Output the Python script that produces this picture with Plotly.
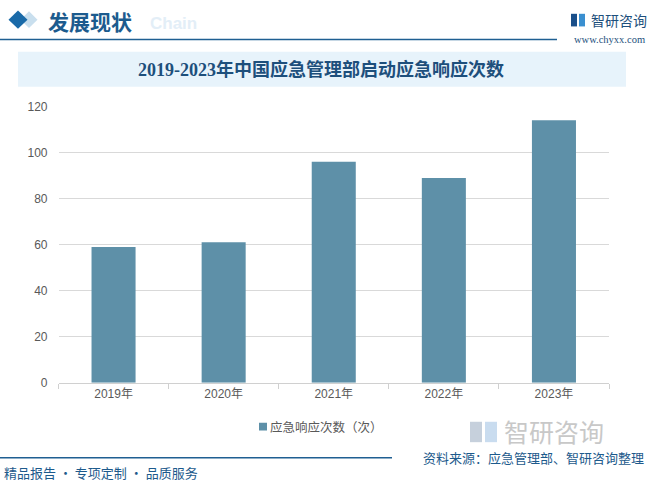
import plotly.graph_objects as go

years = ["2019年", "2020年", "2021年", "2022年", "2023年"]
responses = [59, 61, 96, 89, 114]
series_name = "应急响应次数（次）"
y_ticks = [0, 20, 40, 60, 80, 100, 120]

W, H = 649, 489
def px(x):
    return x / W
def py(y):
    return 1 - y / H

CJK = "Noto Sans CJK SC"
BAR_COLOR = "#5e90a8"
fig = go.Figure()
fig.add_trace(go.Bar(
    x=years, y=responses, name=series_name,
    marker=dict(color=BAR_COLOR, line=dict(width=0)),
    showlegend=False,
))

shapes = []
# title box
shapes.append(dict(type="rect", xref="paper", yref="paper", x0=px(18), x1=px(626), y0=py(82), y1=py(46),
                   fillcolor="#e7f3fb", line=dict(width=0), layer="below"))
# header line
shapes.append(dict(type="line", xref="paper", yref="paper", x0=px(0), x1=px(557), y0=py(33.5), y1=py(33.5),
                   line=dict(color="#1f5f92", width=1.5)))
# footer line
shapes.append(dict(type="line", xref="paper", yref="paper", x0=px(0), x1=px(392), y0=py(464), y1=py(464),
                   line=dict(color="#1f5f92", width=1.5)))
# diamonds
def diamond(cx, cy, r, color):
    path = f"M {px(cx-r)} {py(cy)} L {px(cx)} {py(cy-r)} L {px(cx+r)} {py(cy)} L {px(cx)} {py(cy+r)} Z"
    return dict(type="path", xref="paper", yref="paper", path=path, fillcolor=color, line=dict(width=0))
shapes.append(diamond(29, 13, 8.5, "#c9dfee"))
shapes.append(diamond(18, 13, 9.5, "#1a6aa8"))
# small logo icon top-right
shapes.append(dict(type="rect", xref="paper", yref="paper", x0=px(571), x1=px(577), y0=py(20), y1=py(7),
                   fillcolor="#1a4f8a", line=dict(width=0)))
shapes.append(dict(type="rect", xref="paper", yref="paper", x0=px(579), x1=px(585), y0=py(20), y1=py(7),
                   fillcolor="#3a8fd0", line=dict(width=0)))
# grey logo icon bottom-right
shapes.append(dict(type="rect", xref="paper", yref="paper", x0=px(470), x1=px(482), y0=py(448), y1=py(427),
                   fillcolor="#c6d0dc", line=dict(width=0)))
shapes.append(dict(type="rect", xref="paper", yref="paper", x0=px(485), x1=px(497), y0=py(448), y1=py(427),
                   fillcolor="#c9dcef", line=dict(width=0)))
# legend swatch
shapes.append(dict(type="rect", xref="paper", yref="paper", x0=px(259), x1=px(267), y0=py(436), y1=py(428),
                   fillcolor=BAR_COLOR, line=dict(width=0)))

annotations = [
    dict(text="<b>2019-2023年中国应急管理部启动应急响应次数</b>", x=px(321), y=py(64), xref="paper", yref="paper",
         showarrow=False, font=dict(family="Liberation Serif, " + CJK, size=18, color="#1d4f7c"),
         xanchor="center", yanchor="middle"),
    dict(text="<b>Chain</b>", x=px(148), y=py(17), xref="paper", yref="paper", showarrow=False,
         font=dict(family="Liberation Sans", size=17, color="#e3eef7"), xanchor="left", yanchor="middle"),
    dict(text="<b>发展现状</b>", x=px(46), y=py(14), xref="paper", yref="paper", showarrow=False,
         font=dict(family=CJK, size=21, color="#1c5b8e"), xanchor="left", yanchor="middle"),
    dict(text="智研咨询", x=px(589), y=py(13), xref="paper", yref="paper", showarrow=False,
         font=dict(family=CJK, size=14, color="#1d4f7c"), xanchor="left", yanchor="middle"),
    dict(text="www.chyxx.com", x=px(647), y=py(33), xref="paper", yref="paper", showarrow=False,
         font=dict(family="Liberation Serif", size=10.5, color="#1d4f7c"), xanchor="right", yanchor="middle"),
    dict(text="智研咨询", x=px(502), y=py(436), xref="paper", yref="paper", showarrow=False,
         font=dict(family=CJK, size=25, color="#c8c8c8"), xanchor="left", yanchor="middle"),
    dict(text="资料来源：应急管理部、智研咨询整理", x=px(646), y=py(464), xref="paper", yref="paper", showarrow=False,
         font=dict(family=CJK, size=13, color="#1d5a8c"), xanchor="right", yanchor="middle"),
    dict(text="精品报告 · 专项定制 · 品质服务", x=px(2), y=py(479), xref="paper", yref="paper", showarrow=False,
         font=dict(family=CJK, size=13, color="#1d5a8c"), xanchor="left", yanchor="middle"),
    dict(text=series_name, x=px(268), y=py(432), xref="paper", yref="paper", showarrow=False,
         font=dict(family=CJK, size=12.5, color="#595959"), xanchor="left", yanchor="middle"),
]

fig.update_layout(
    width=W, height=H,
    margin=dict(l=0, r=0, t=0, b=0),
    paper_bgcolor="white", plot_bgcolor="white",
    bargap=0.6,
    shapes=shapes, annotations=annotations,
    font=dict(family="Liberation Sans, " + CJK, size=12, color="#595959"),
    xaxis=dict(domain=[px(58.5), px(609)], showline=True, linecolor="#d0d0d0", linewidth=1,
               ticks="outside", tickson="boundaries", ticklen=5, tickcolor="#d0d0d0",
               tickfont=dict(family="Liberation Sans, " + CJK, size=12, color="#595959"),
               showgrid=False, fixedrange=True),
    yaxis=dict(domain=[py(386.7), py(102.5)], range=[0, 120], tickvals=y_ticks,
               showgrid=True, gridcolor="#d9d9d9", gridwidth=1, zeroline=False,
               showline=False, ticks="", ticklabelstandoff=10,
               tickfont=dict(family="Liberation Sans", size=12, color="#595959"), fixedrange=True),
)

fig.write_html("out.html", config={"displayModeBar": False},
               post_script="document.body.style.margin='0';document.body.style.overflow='hidden';")
